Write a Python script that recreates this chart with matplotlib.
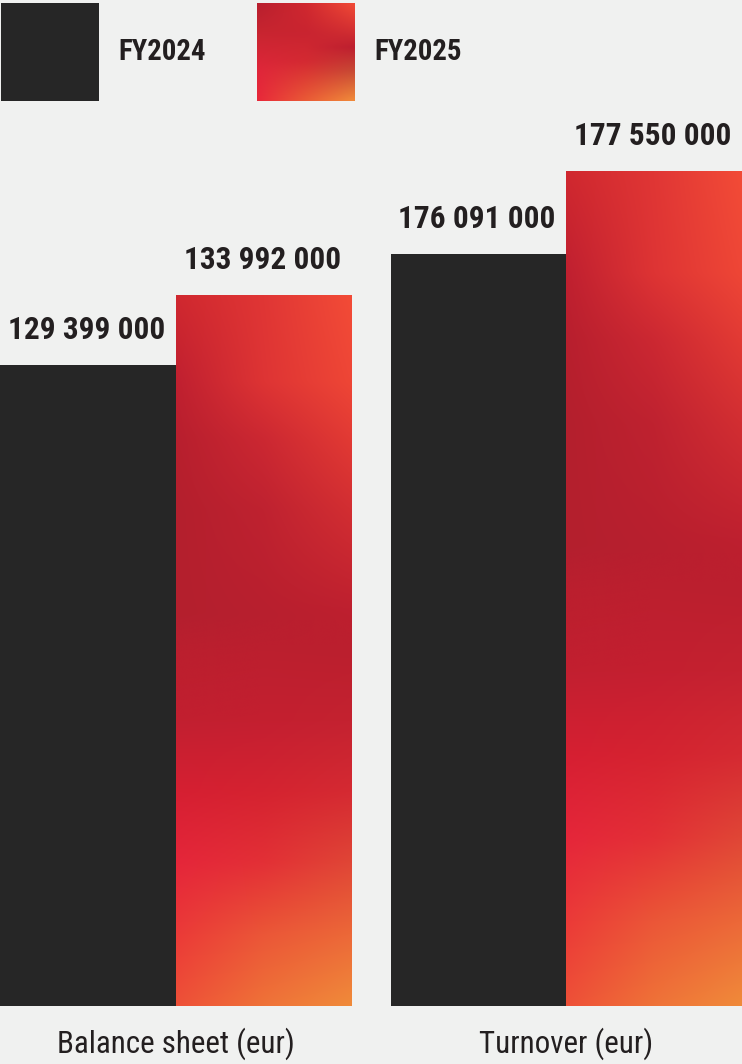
import numpy as np
import matplotlib
matplotlib.use("Agg")
import matplotlib.pyplot as plt
from matplotlib import font_manager
from matplotlib.colors import to_rgb

# Data
categories = ["Balance sheet (eur)", "Turnover (eur)"]
years = ["FY2024", "FY2025"]
fy2024_values = [129399000, 176091000]
fy2025_values = [133992000, 177550000]
# bar heights as drawn (percent of tallest bar)
fy2024_heights = [76.8, 90.1]
fy2025_heights = [85.1, 100.0]

bg = "#f0f1f0"
dark = "#262626"
text_col = "#231f20"

# pick a condensed font if one is installed
names = {f.name for f in font_manager.fontManager.ttflist}
font = "Roboto"
for cand in ["Roboto Condensed", "Liberation Sans Narrow", "DejaVu Sans Condensed"]:
    if cand in names:
        font = cand
        break
plt.rcParams["font.family"] = [font, "DejaVu Sans"]


def fmt(v):
    return f"{v:,}".replace(",", " ")


def mix(stops, t):
    vs = np.array([s[0] for s in stops])
    cs = np.array([to_rgb(s[1]) for s in stops])
    return np.stack([np.interp(t, vs, cs[:, k]) for k in range(3)], axis=-1)


# columns of the red mesh gradient (u = 0, 0.5, 1), stops along v (0 = top)
col_left = [(0, "#d0282f"), (0.12, "#c02030"), (0.2, "#b81f2e"), (0.3, "#b41f2d"),
            (0.45, "#b41f2e"), (0.5, "#bb1f2e"), (0.6, "#c21f30"), (0.7, "#d61f32"),
            (0.8, "#e5263a"), (0.9, "#eb3a38"), (1.0, "#ee5037")]
col_mid = [(0, "#e03635"), (0.12, "#de3434"), (0.2, "#cc2832"), (0.3, "#bf2230"),
           (0.45, "#b81f2e"), (0.6, "#c41f30"), (0.7, "#d52330"), (0.8, "#e33036"),
           (0.9, "#eb5637"), (1.0, "#ef7238")]
col_right = [(0, "#f24b37"), (0.12, "#ee4636"), (0.2, "#e23a34"), (0.3, "#d22e32"),
             (0.45, "#bd1f2f"), (0.5, "#bb1f2e"), (0.6, "#c42230"), (0.7, "#d52a32"),
             (0.8, "#e04636"), (0.9, "#ec6838"), (1.0, "#f08a3a")]

# the legend swatch has a more diagonal version of the same colours
leg_left = [(0, "#b81f2e"), (0.3, "#c82530"), (0.7, "#e0263a"), (1.0, "#e8283a")]
leg_mid = [(0, "#d0282f"), (0.3, "#c92430"), (0.6, "#d42a32"), (1.0, "#ea5a36")]
leg_right = [(0, "#f04a36"), (0.25, "#d63232"), (0.45, "#bd1f2f"), (0.7, "#c84a34"),
             (1.0, "#f08a3a")]


def gradient(cl, cm, cr, nu=60, nv=200):
    v = np.linspace(0, 1, nv)
    a = mix(cl, v)
    b = mix(cm, v)
    c = mix(cr, v)
    u = np.linspace(0, 1, nu)[None, :, None]
    left = a[:, None, :] * (1 - 2 * u) + b[:, None, :] * (2 * u)
    right = b[:, None, :] * (2 - 2 * u) + c[:, None, :] * (2 * u - 1)
    return np.where(u <= 0.5, left, right)


grad = gradient(col_left, col_mid, col_right)
leg_grad = gradient(leg_left, leg_mid, leg_right, nu=50, nv=50)

fig = plt.figure(figsize=(7.42, 10.64), dpi=100, facecolor=bg)
W, H = 742, 1064
ax = fig.add_axes([0, 58 / H, 1, 835 / H])
ax.set_facecolor(bg)

x = np.arange(len(categories))
w = 0.45
b1 = ax.bar(x - w / 2, fy2024_heights, w, color=dark, zorder=2)
b2 = ax.bar(x + w / 2, fy2025_heights, w, color="none", zorder=2)
for rect in b2:
    x0, y0 = rect.get_x(), rect.get_y()
    im = ax.imshow(grad, extent=(x0, x0 + rect.get_width(), y0, y0 + rect.get_height()),
                   aspect="auto", interpolation="bicubic", zorder=2)
    im.set_clip_path(rect)

for bars, vals in [(b1, fy2024_values), (b2, fy2025_values)]:
    for rect, v in zip(bars, vals):
        ax.annotate(fmt(v), (rect.get_x() + rect.get_width() / 2, rect.get_height()),
                    xytext=(-1, 18.7), textcoords="offset points", ha="center",
                    va="baseline", fontsize=22.5, fontweight="bold", color=text_col,
                    annotation_clip=False)

ax.set_xlim(-0.45, 1.45)
ax.set_ylim(0, 100)
ax.set_xticks(x, categories)
ax.tick_params(axis="x", length=0, pad=33.8, labelsize=22.3, labelcolor=text_col)
for lab in ax.get_xticklabels():
    lab.set_va("baseline")
ax.set_yticks([])
for s in ax.spines.values():
    s.set_visible(False)

# legend swatches
lg1 = fig.add_axes([1 / W, 1 - 101 / H, 98 / W, 98 / H])
lg1.set_facecolor(dark)
lg2 = fig.add_axes([257 / W, 1 - 101 / H, 98 / W, 98 / H])
lg2.imshow(leg_grad, extent=(0, 1, 0, 1), aspect="auto", interpolation="bicubic")
for a in (lg1, lg2):
    a.set_xticks([])
    a.set_yticks([])
    for s in a.spines.values():
        s.set_visible(False)
fig.text(118 / W, 1 - 60 / H, years[0], fontsize=20.7, fontweight="bold",
         color=text_col, va="baseline")
fig.text(374 / W, 1 - 60 / H, years[1], fontsize=20.7, fontweight="bold",
         color=text_col, va="baseline")

fig.savefig("out.png", dpi=100, facecolor=bg)
